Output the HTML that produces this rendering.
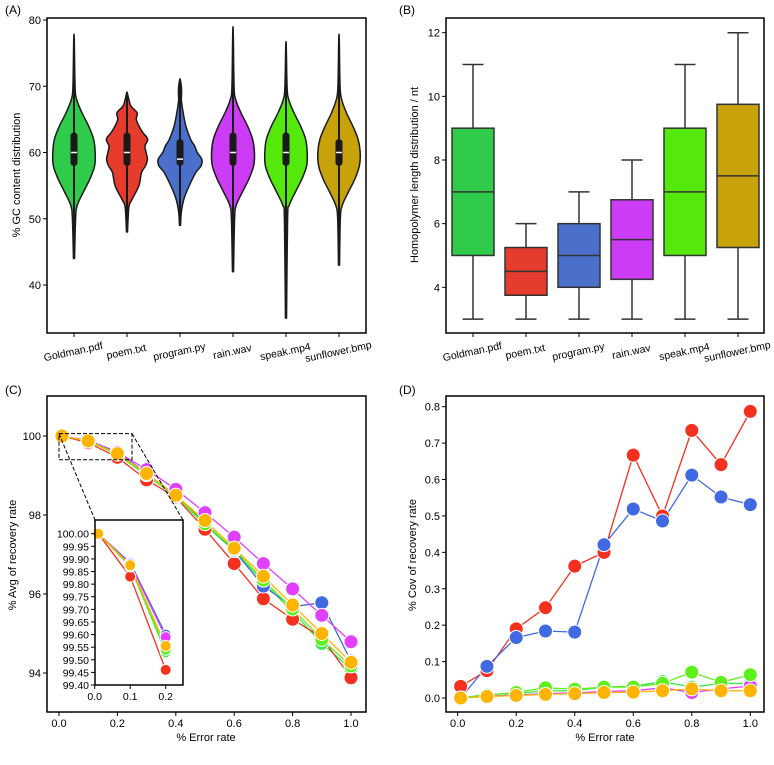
<!DOCTYPE html>
<html><head><meta charset="utf-8">
<style>
html,body{margin:0;padding:0;background:#fff;}
svg{display:block;font-family:"Liberation Sans",sans-serif;}
</style></head>
<body>
<svg id="fig" width="774" height="765" viewBox="0 0 774 765" xmlns="http://www.w3.org/2000/svg">
<rect width="774" height="765" fill="#fff"/>
<text x="5" y="14" font-size="12">(A)</text>
<text x="399" y="14" font-size="12">(B)</text>
<text x="5" y="394" font-size="12">(C)</text>
<text x="399" y="394" font-size="12">(D)</text>
<g id="pa"></g>
<g id="pb"></g>
<g id="pc"></g>
<g id="pd"></g>
</svg>
<script>
const files = ["Goldman.pdf","poem.txt","program.py","rain.wav","speak.mp4","sunflower.bmp"];
const fillA = ["#2ecc4a","#e63c2e","#4a70cc","#cc3cf4","#55e80c","#c8a20a"];
const lineColors = ["#3de84a","#f4301f","#4169e1","#e040fb","#5ef01a","#ffb400"];
const vY0 = [44,50,52,54,56,58,60,62,64,66,68,70,77];
const vW0 = [0.02,0.06,0.12,0.35,0.6,0.78,0.8,0.74,0.55,0.3,0.1,0.04,0.01];
const vY1 = [48,50,52,53,55,57,58,59,60,61,62,63,64,65,66,67,68,69];
const vW1 = [0.02,0.04,0.08,0.2,0.45,0.55,0.7,0.77,0.72,0.68,0.78,0.6,0.45,0.35,0.38,0.15,0.07,0.01];
const vY2 = [49,51,53,55,57,58,59,60,61,62,64,66,67,68,69,70,71];
const vW2 = [0.02,0.05,0.15,0.35,0.6,0.8,0.82,0.65,0.55,0.4,0.22,0.12,0.08,0.05,0.06,0.05,0.01];
const vY3 = [42,50,52,54,56,58,60,62,64,66,68,70,78];
const vW3 = [0.02,0.06,0.12,0.35,0.6,0.78,0.81,0.74,0.55,0.3,0.1,0.04,0.01];
const vY4 = [35,50,52,54,56,58,60,62,64,66,68,70,76];
const vW4 = [0.02,0.06,0.12,0.35,0.6,0.78,0.8,0.74,0.55,0.3,0.1,0.04,0.01];
const vY5 = [43,50,52,54,56,58,60,62,64,66,68,70,77];
const vW5 = [0.02,0.05,0.12,0.35,0.6,0.77,0.8,0.72,0.52,0.28,0.1,0.04,0.01];
const violinY = [vY0,vY1,vY2,vY3,vY4,vY5];
const violinW = [vW0,vW1,vW2,vW3,vW4,vW5];
const gcQ1 = [58,58,58,58,58,58];
const gcQ3 = [63,63,62,63,63,62];
const gcMed = [60,60,59,60,60,60];
const aYTicks = [40,50,60,70,80];
const bMin = [3,3,3,3,3,3];
const bQ1 = [5,3.75,4,4.25,5,5.25];
const bMed = [7,4.5,5,5.5,7,7.5];
const bQ3 = [9,5.25,6,6.75,9,9.75];
const bMax = [11,6,7,8,11,12];
const bYTicks = [4,6,8,10,12];
const errRate = [0.01,0.1,0.2,0.3,0.4,0.5,0.6,0.7,0.8,0.9,1.0];
const avgGoldman = [100,99.87,99.53,99.0,98.48,97.74,97.1,96.3,95.55,94.75,94.1];
const avgPoem = [100,99.83,99.46,98.89,98.45,97.64,96.77,95.88,95.36,94.9,93.88];
const avgProgram = [100,99.885,99.6,99.05,98.5,97.8,97.1,96.2,95.68,95.78,94.3];
const avgRain = [100,99.88,99.59,99.15,98.65,98.06,97.44,96.77,96.13,95.46,94.79];
const avgSpeak = [100,99.87,99.54,99.02,98.48,97.78,97.13,96.35,95.62,94.85,94.18];
const avgSunflower = [100,99.875,99.555,99.05,98.5,97.86,97.16,96.45,95.72,95.0,94.27];
const covGoldman = [0,0.01,0.012,0.02,0.02,0.03,0.032,0.045,0.03,0.04,0.04];
const covPoem = [0.032,0.075,0.19,0.248,0.362,0.40,0.667,0.50,0.735,0.641,0.787];
const covProgram = [0.0,0.087,0.166,0.184,0.181,0.421,0.519,0.486,0.612,0.552,0.531];
const covRain = [0,0.005,0.008,0.012,0.014,0.018,0.02,0.028,0.015,0.025,0.033];
const covSpeak = [0,0.008,0.015,0.028,0.024,0.03,0.03,0.04,0.071,0.043,0.064];
const covSunflower = [0,0.004,0.007,0.01,0.012,0.015,0.016,0.02,0.025,0.02,0.02];
const avgSeries = [avgGoldman,avgPoem,avgProgram,avgRain,avgSpeak,avgSunflower];
const covSeries = [covGoldman,covPoem,covProgram,covRain,covSpeak,covSunflower];
const lineXTicks = [0.0,0.2,0.4,0.6,0.8,1.0];
const cYTicks = [94,96,98,100];
const dYTicks = [0.0,0.1,0.2,0.3,0.4,0.5,0.6,0.7,0.8];
const insetYTicks = [99.40,99.45,99.50,99.55,99.60,99.65,99.70,99.75,99.80,99.85,99.90,99.95,100.00];
const insetXTicks = [0.0,0.1,0.2];

const NS="http://www.w3.org/2000/svg";
function mk(parent,tag,attrs,text){const e=document.createElementNS(NS,tag);for(const k in attrs)e.setAttribute(k,attrs[k]);if(text!==undefined)e.textContent=text;parent.appendChild(e);return e;}
function lin(d0,d1,r0,r1){return v=>r0+(v-d0)/(d1-d0)*(r1-r0);}
function frame(g,x0,y0,x1,y1){const r=mk(g,'rect',{x:x0,y:y0,width:x1-x0,height:y1-y0,fill:'none',stroke:'#000','stroke-width':1.5});}
function yticks(g,ticks,sy,x0,fmt,fs){ticks.forEach(t=>{const y=sy(t);const l=mk(g,'line',{x1:x0-4,x2:x0,y1:y,y2:y,stroke:'#000','stroke-width':1});const tx=mk(g,'text',{x:x0-6,y:y+4,'font-size':fs||11,'text-anchor':'end'},fmt(t));});}
function xticks(g,ticks,sx,y0,fmt,fs){ticks.forEach(t=>{const x=sx(t);const l=mk(g,'line',{x1:x,x2:x,y1:y0,y2:y0+4,stroke:'#000','stroke-width':1});const tx=mk(g,'text',{x:x,y:y0+15,'font-size':fs||11,'text-anchor':'middle'},fmt(t));});}
function ylabel(g,x,y,txt){const t=mk(g,'text',{x:0,y:0,'font-size':11,'text-anchor':'middle',transform:`translate(${x},${y}) rotate(-90)`},txt);}
function xlabel(g,x,y,txt){const t=mk(g,'text',{x:x,y:y,'font-size':11,'text-anchor':'middle'},txt);}
function catLabels(g,sx,y0){files.forEach((f,i)=>{const x=sx(i);const l=mk(g,'line',{x1:x,x2:x,y1:y0,y2:y0+4,stroke:'#000','stroke-width':1});const t=mk(g,'text',{x:0,y:0,'font-size':10.5,'text-anchor':'middle',transform:`translate(${x},${y0+22}) rotate(-12)`},f);});}

(function(){
const g=document.getElementById('pa');
const X0=47,X1=366,Y0=18,Y1=333;
const sy=lin(40,80,285,20);
const sx=i=>74+i*53;
const hw=26.5;
files.forEach((f,i)=>{
  const ys=violinY[i],ws=violinW[i],cx=sx(i);
  let right=ys.map((y,k)=>[cx+ws[k]*hw,sy(y)]);
  let left=ys.map((y,k)=>[cx-ws[k]*hw,sy(y)]).reverse();
  const pts=right.concat(left);
  let d='M'+pts[0][0]+','+pts[0][1];
  for(let k=0;k<pts.length-1;k++){const p0=pts[Math.max(k-1,0)],p1=pts[k],p2=pts[k+1],p3=pts[Math.min(k+2,pts.length-1)];
    d+=` C${p1[0]+(p2[0]-p0[0])/6},${p1[1]+(p2[1]-p0[1])/6} ${p2[0]-(p3[0]-p1[0])/6},${p2[1]-(p3[1]-p1[1])/6} ${p2[0]},${p2[1]}`;}
  d+='Z';
  const v=mk(g,'path',{d:d,fill:fillA[i],stroke:'#1a1a1a','stroke-width':1.5,'stroke-linejoin':'round'});
  
  
  const w=mk(g,'line',{x1:cx,x2:cx,y1:sy(ys[0]),y2:sy(ys[ys.length-1]),stroke:'#1a1a1a','stroke-width':2});
  
  
  const b=mk(g,'rect',{x:cx-3.5,y:sy(gcQ3[i]),width:7,height:sy(gcQ1[i])-sy(gcQ3[i]),rx:3,fill:'#1a1a1a'});
  
  
  const m=mk(g,'line',{x1:cx-3,x2:cx+3,y1:sy(gcMed[i]),y2:sy(gcMed[i]),stroke:'#fff','stroke-width':1.5});
  
  
});
frame(g,X0,Y0,X1,Y1);
yticks(g,aYTicks,sy,X0,t=>String(t));
catLabels(g,sx,Y1);
ylabel(g,20,175,'% GC content distribution');
})();

(function(){
const g=document.getElementById('pb');
const X0=446,X1=764,Y0=18,Y1=333;
const sy=lin(4,12,287.3,32.7);
const sx=i=>473+i*53;
const bw=42;
files.forEach((f,i)=>{
  const cx=sx(i);
  const wl=mk(g,'line',{x1:cx,x2:cx,y1:sy(bMin[i]),y2:sy(bQ1[i]),stroke:'#333','stroke-width':1.5});
  
  const wh=mk(g,'line',{x1:cx,x2:cx,y1:sy(bQ3[i]),y2:sy(bMax[i]),stroke:'#333','stroke-width':1.5});
  
  [bMin[i],bMax[i]].forEach(v=>{const c=mk(g,'line',{x1:cx-10.5,x2:cx+10.5,y1:sy(v),y2:sy(v),stroke:'#333','stroke-width':1.5});});
  const r=mk(g,'rect',{x:cx-bw/2,y:sy(bQ3[i]),width:bw,height:sy(bQ1[i])-sy(bQ3[i]),fill:fillA[i],stroke:'#333','stroke-width':1.5});
  
  const m=mk(g,'line',{x1:cx-bw/2,x2:cx+bw/2,y1:sy(bMed[i]),y2:sy(bMed[i]),stroke:'#333','stroke-width':1.5});
  
});
frame(g,X0,Y0,X1,Y1);
yticks(g,bYTicks,sy,X0,t=>String(t));
catLabels(g,sx,Y1);
ylabel(g,418,175,'Homopolymer length distribution / nt');
})();

function drawSeries(g,series,sx,sy,r,n,prefix){
  series.forEach((s,i)=>{
    const xs=errRate.slice(0,n),vs=s.slice(0,n);
    const p=mk(g,'polyline',{points:xs.map((x,k)=>sx(x)+','+sy(vs[k])).join(' '),fill:'none',stroke:lineColors[i],'stroke-width':1.3});
    
    
  });
  series.forEach((s,i)=>{
    errRate.slice(0,n).forEach((x,k)=>{
      const c=mk(g,'circle',{cx:sx(x),cy:sy(s[k]),r:r,fill:lineColors[i],stroke:'#fff','stroke-width':1});
      
      
    });
  });
}

(function(){
const g=document.getElementById('pc');
const X0=47,X1=366,Y0=396,Y1=712;
const sx=lin(0,1,59,351);
const sy=lin(94,100,673,436);
drawSeries(g,avgSeries,sx,sy,7,11,'avg');
frame(g,X0,Y0,X1,Y1);
yticks(g,cYTicks,sy,X0,t=>String(t));
xticks(g,lineXTicks,sx,Y1,t=>t.toFixed(1));
ylabel(g,16,555,'% Avg of recovery rate');
xlabel(g,206,741,'% Error rate');
const rx0=sx(0),rx1=sx(0.25),ry0=sy(100.06),ry1=sy(99.4);
const zr=mk(g,'rect',{x:rx0,y:ry0,width:rx1-rx0,height:ry1-ry0,fill:'none',stroke:'#000','stroke-width':1,'stroke-dasharray':'4,2'});

const IX0=95,IX1=183,IY0=520,IY1=685;
const l1=mk(g,'line',{x1:rx0,y1:ry0,x2:IX0,y2:IY0,stroke:'#000','stroke-width':1,'stroke-dasharray':'4,2'});

const l2=mk(g,'line',{x1:rx1,y1:ry0,x2:IX1,y2:IY0,stroke:'#000','stroke-width':1,'stroke-dasharray':'4,2'});

const ig=mk(g,'g',{});

const bg=mk(ig,'rect',{x:IX0,y:IY0,width:IX1-IX0,height:IY1-IY0,fill:'#fff'});

const isx=lin(0,0.1,94.7,130.2);
const isy=lin(99.4,100,685,533.7);
drawSeries(ig,avgSeries,isx,isy,5.5,3,'inset');
frame(ig,IX0,IY0,IX1,IY1);
yticks(ig,insetYTicks,isy,IX0,t=>t.toFixed(2),10.5);
xticks(ig,insetXTicks,isx,IY1,t=>t.toFixed(1),10.5);
})();

(function(){
const g=document.getElementById('pd');
const X0=446,X1=764,Y0=396,Y1=712;
const sx=lin(0,1,457.7,750.3);
const sy=lin(0,0.8,698,406.7);
drawSeries(g,covSeries,sx,sy,7,11,'cov');
frame(g,X0,Y0,X1,Y1);
yticks(g,dYTicks,sy,X0,t=>t.toFixed(1));
xticks(g,lineXTicks,sx,Y1,t=>t.toFixed(1));
ylabel(g,416,555,'% Cov of recovery rate');
xlabel(g,605,741,'% Error rate');
})();
</script>
</body></html>
